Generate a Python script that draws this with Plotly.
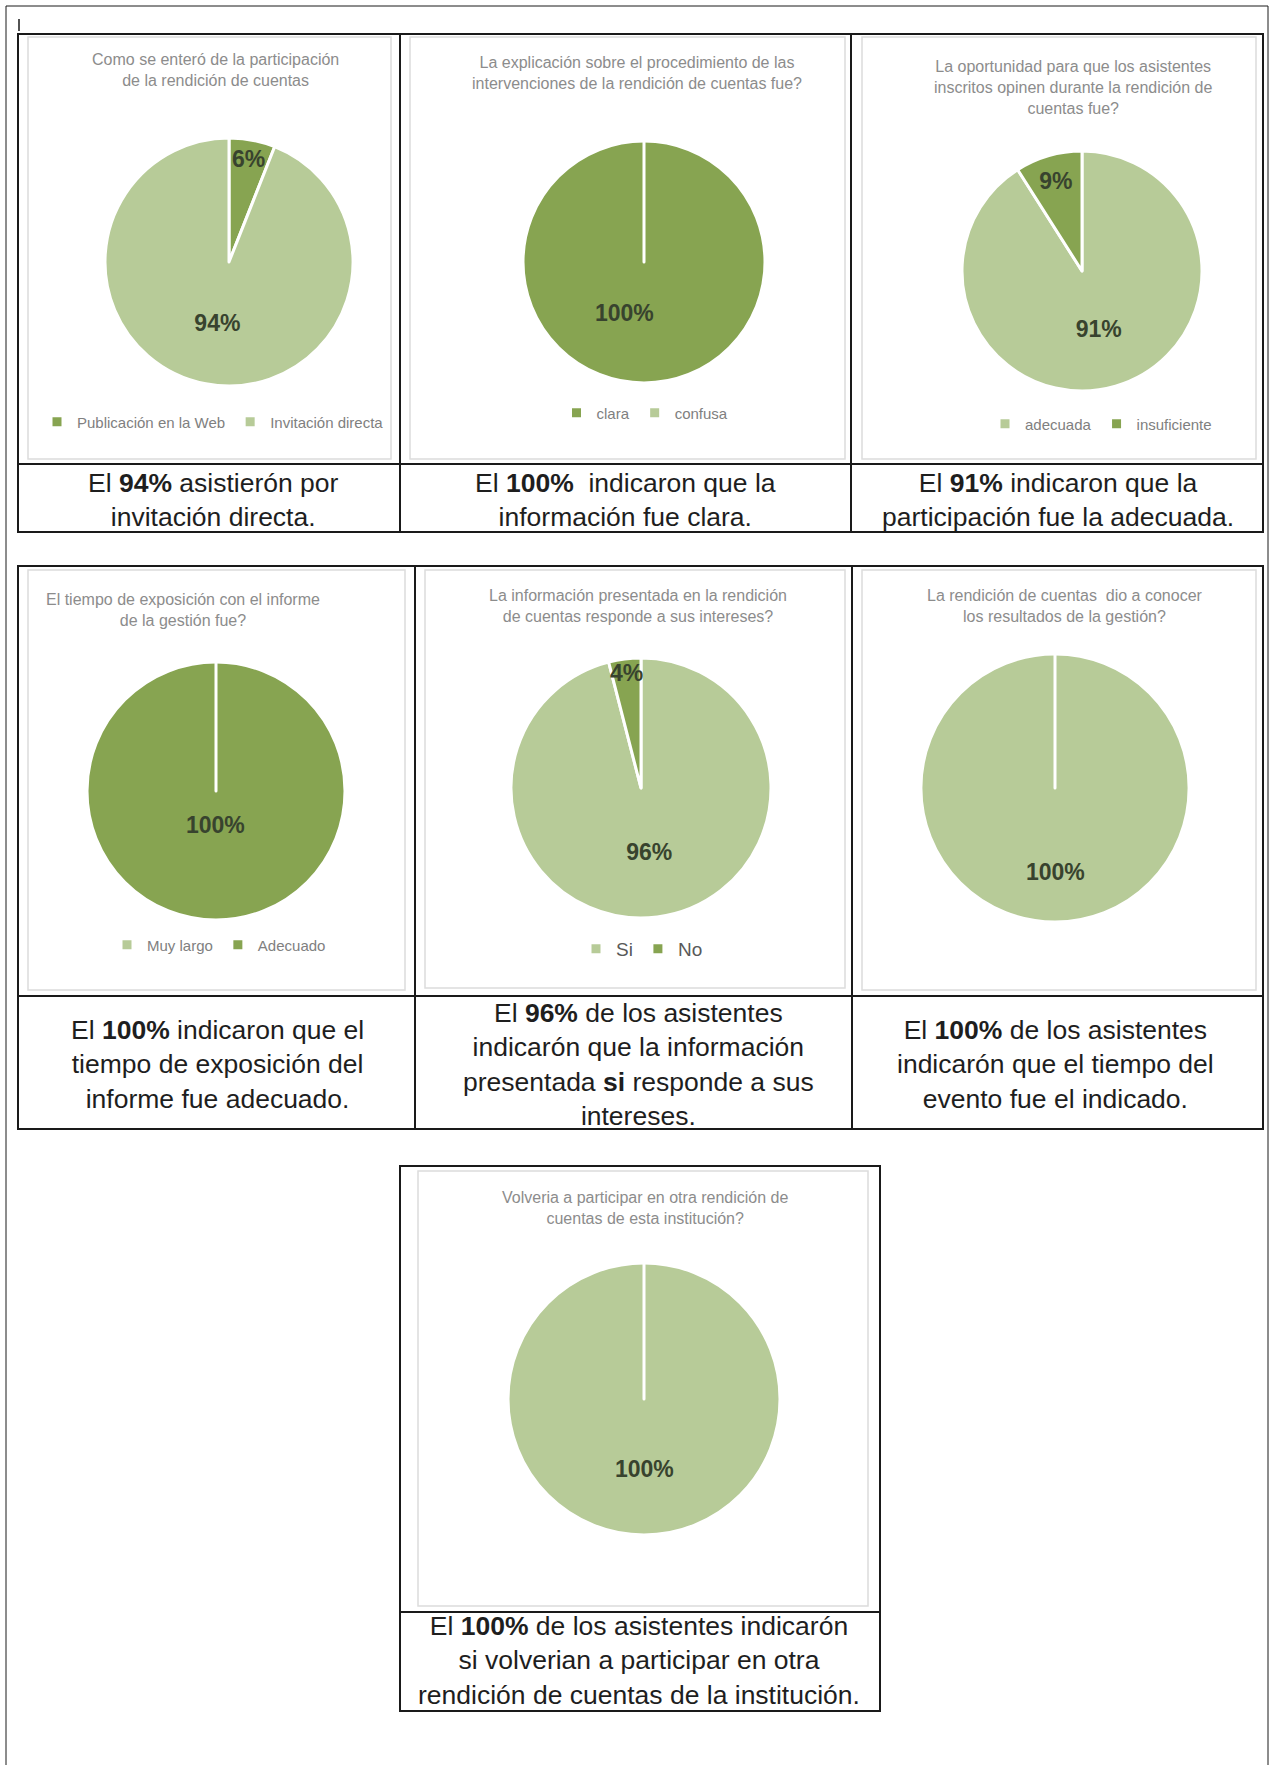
import plotly.graph_objects as go

W, H = 1273, 1765

# ---------------- data ----------------
labels_enteró = ["Publicación en la Web", "Invitación directa"]
values_enteró = [6, 94]

labels_explicacion = ["clara", "confusa"]
values_explicacion = [100, 0]

labels_oportunidad = ["adecuada", "insuficiente"]
values_oportunidad = [91, 9]

# stored in drawing order; legend shows them reversed ("Muy largo", "Adecuado")
labels_tiempo = ["Adecuado", "Muy largo"]
values_tiempo = [100, 0]

labels_intereses = ["Si", "No"]
values_intereses = [96, 4]

labels_resultados = ["Si", "No"]
values_resultados = [100, 0]

labels_volveria = ["Si", "No"]
values_volveria = [100, 0]

titles = [
    "Como se enteró de la participación<br>de la rendición de cuentas",
    "La explicación sobre el procedimiento de las<br>intervenciones de la rendición de cuentas fue?",
    "La oportunidad para que los asistentes<br>inscritos opinen durante la rendición de<br>cuentas fue?",
    "El tiempo de exposición con el informe<br>de la gestión fue?",
    "La información presentada en la rendición<br>de cuentas responde a sus intereses?",
    "La rendición de cuentas  dio a conocer<br>los resultados de la gestión?",
    "Volveria a participar en otra rendición de<br>cuentas de esta institución?",
]

captions = [
    "El <b>94%</b> asistierón por<br>invitación directa.",
    "El <b>100%</b>  indicaron que la<br>información fue clara.",
    "El <b>91%</b> indicaron que la<br>participación fue la adecuada.",
    "El <b>100%</b> indicaron que el<br>tiempo de exposición del<br>informe fue adecuado.",
    "El <b>96%</b> de los asistentes<br>indicarón que la información<br>presentada <b>si</b> responde a sus<br>intereses.",
    "El <b>100%</b> de los asistentes<br>indicarón que el tiempo del<br>evento fue el indicado.",
    "El <b>100%</b> de los asistentes indicarón<br>si volverian a participar en otra<br>rendición de cuentas de la institución.",
]

# ---------------- style ----------------
LIGHT = "#b7cb98"
DARK = "#87a451"
LABEL_COLOR = "#38432e"

charts = [
    dict(labels=labels_enteró, values=values_enteró, colors=[DARK, LIGHT],
         cx=229, cy=262, r=124, tx=215, ty=70, lx=213, ly=422, lfs=15, lcol="#808080",
         capx=213, capy=500, order="normal", full_dx=0, full_dy=0),
    dict(labels=labels_explicacion, values=values_explicacion, colors=[DARK, LIGHT],
         cx=644, cy=262, r=121, tx=637, ty=73, lx=645, ly=413, lfs=15, lcol="#808080",
         capx=625, capy=500, order="normal", full_dx=-20, full_dy=51),
    dict(labels=labels_oportunidad, values=values_oportunidad, colors=[LIGHT, DARK],
         cx=1082, cy=271, r=120, tx=1073, ty=87, lx=1101, ly=424, lfs=15, lcol="#808080",
         capx=1058, capy=500, order="normal", full_dx=0, full_dy=0),
    dict(labels=labels_tiempo, values=values_tiempo, colors=[DARK, LIGHT],
         cx=216, cy=791, r=129, tx=183, ty=610, lx=219, ly=945, lfs=15, lcol="#808080",
         capx=217, capy=1064, order="reversed", full_dx=0, full_dy=34),
    dict(labels=labels_intereses, values=values_intereses, colors=[LIGHT, DARK],
         cx=641, cy=788, r=130, tx=638, ty=606, lx=642, ly=949, lfs=19, lcol="#595959",
         capx=638, capy=1064, order="normal", full_dx=0, full_dy=0),
    dict(labels=labels_resultados, values=values_resultados, colors=[LIGHT, DARK],
         cx=1055, cy=788, r=134, tx=1065, ty=606, lx=1063, ly=951, lfs=19, lcol="#595959",
         capx=1055, capy=1064, order="normal", full_dx=0, full_dy=84),
    dict(labels=labels_volveria, values=values_volveria, colors=[LIGHT, DARK],
         cx=644, cy=1399, r=136, tx=645, ty=1208, lx=646, ly=1562, lfs=19, lcol="#595959",
         capx=639, capy=1660, order="normal", full_dx=0, full_dy=70),
]

FONT = "Liberation Sans, Arial, sans-serif"


def fx(px):
    return px / W


def fy(py):
    return 1 - py / H


fig = go.Figure()
annotations = []
layout_legends = {}

for i, c in enumerate(charts):
    leg = "legend" if i == 0 else f"legend{i + 1}"
    total = sum(c["values"])
    is_full = max(c["values"]) == total
    # slice labels; a single full slice gets its label placed below the centre (like the original)
    texts = [("" if is_full else f"{v}%") if v > 0 else "" for v in c["values"]]
    fig.add_trace(go.Pie(
        labels=c["labels"], values=c["values"], text=texts,
        textinfo="text", textposition="inside", insidetextorientation="horizontal",
        insidetextfont=dict(family=FONT, size=23, color=LABEL_COLOR, weight="bold"),
        marker=dict(colors=c["colors"], line=dict(color="white", width=3)),
        sort=False, direction="clockwise", rotation=0,
        domain=dict(x=[fx(c["cx"] - c["r"]), fx(c["cx"] + c["r"])],
                    y=[fy(c["cy"] + c["r"]), fy(c["cy"] - c["r"])]),
        legend=leg, showlegend=True, hoverinfo="label+percent",
    ))
    if is_full:
        full_val = max(c["values"])
        annotations.append(dict(
            text=f"<b>{round(100 * full_val / total)}%</b>",
            x=fx(c["cx"] + c["full_dx"]), y=fy(c["cy"] + c["full_dy"]),
            xref="paper", yref="paper", xanchor="center", yanchor="middle", showarrow=False,
            font=dict(family=FONT, size=23, color=LABEL_COLOR),
        ))
    layout_legends[leg] = dict(
        orientation="h", x=fx(c["lx"]), y=fy(c["ly"]), xanchor="center", yanchor="middle",
        font=dict(family=FONT, size=c["lfs"], color=c["lcol"]),
        bgcolor="rgba(0,0,0,0)", itemwidth=30, traceorder=c["order"],
    )
    annotations.append(dict(
        text=titles[i], x=fx(c["tx"]), y=fy(c["ty"]), xref="paper", yref="paper",
        xanchor="center", yanchor="middle", showarrow=False, align="center",
        font=dict(family=FONT, size=16, color="#8c8c8c"),
    ))
    annotations.append(dict(
        text=captions[i], x=fx(c["capx"]), y=fy(c["capy"]), xref="paper", yref="paper",
        xanchor="center", yanchor="middle", showarrow=False, align="center",
        font=dict(family=FONT, size=26.5, color="#1e1e1e"),
    ))

shapes = []


def rect(x0, y0, x1, y1, color, width):
    shapes.append(dict(type="rect", xref="paper", yref="paper",
                       x0=fx(x0), x1=fx(x1), y0=fy(y1), y1=fy(y0),
                       line=dict(color=color, width=width), fillcolor="rgba(0,0,0,0)", layer="below"))


def line(x0, y0, x1, y1, color, width):
    shapes.append(dict(type="line", xref="paper", yref="paper",
                       x0=fx(x0), x1=fx(x1), y0=fy(y0), y1=fy(y1),
                       line=dict(color=color, width=width), layer="above"))


GRAY = "#dcdcdc"
# inner chart frames (light gray)
rect(28, 37, 391, 459, GRAY, 1.5)
rect(410, 37, 845, 459, GRAY, 1.5)
rect(862, 37, 1256, 459, GRAY, 1.5)
rect(28, 570, 405, 990, GRAY, 1.5)
rect(425, 570, 845, 988, GRAY, 1.5)
rect(862, 570, 1256, 990, GRAY, 1.5)
rect(418, 1171, 868, 1606, GRAY, 1.5)

BLK = "#1a1a1a"
# outer page frame
line(6, 6, 1268, 6, BLK, 1)
line(6, 6, 6, 1765, BLK, 1)
line(1268, 6, 1268, 1765, BLK, 1)
line(19, 19, 19, 31, BLK, 1.5)

# row 1 table
rect(18, 34, 1263, 532, BLK, 2)
line(18, 464, 1263, 464, BLK, 2)
line(400, 34, 400, 532, BLK, 2)
line(851, 34, 851, 532, BLK, 2)

# row 2 table
rect(18, 566, 1263, 1129, BLK, 2)
line(18, 996, 1263, 996, BLK, 2)
line(415, 566, 415, 1129, BLK, 2)
line(852, 566, 852, 1129, BLK, 2)

# row 3 table
rect(400, 1166, 880, 1711, BLK, 2)
line(400, 1612, 880, 1612, BLK, 2)

fig.update_layout(
    width=W, height=H, autosize=False,
    margin=dict(l=0, r=0, t=0, b=0),
    paper_bgcolor="white", plot_bgcolor="white",
    annotations=annotations, shapes=shapes,
    uniformtext=dict(minsize=23, mode="show"),
    **layout_legends,
)

fig.write_html("out.html", config={"displayModeBar": False},
               post_script="document.body.style.margin='0px';")
